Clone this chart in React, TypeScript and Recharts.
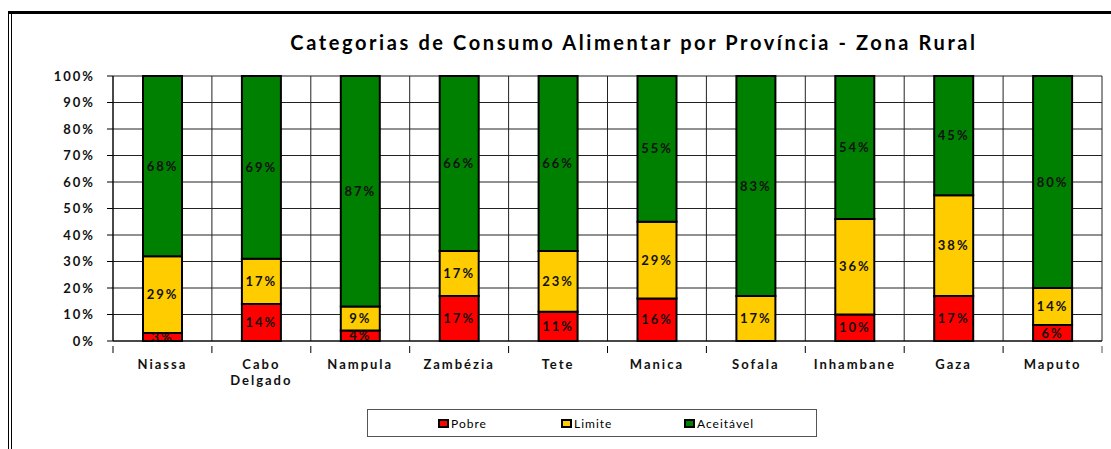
import { BarChart, Bar, XAxis, YAxis, CartesianGrid, LabelList } from 'recharts'

const provincias = ['Niassa', 'Cabo Delgado', 'Nampula', 'Zambézia', 'Tete', 'Manica', 'Sofala', 'Inhambane', 'Gaza', 'Maputo']
const pobre = [3, 14, 4, 17, 11, 16, 0, 10, 17, 6]
const limite = [29, 17, 9, 17, 23, 29, 17, 36, 38, 14]
const aceitavel = [68, 69, 87, 66, 66, 55, 83, 54, 45, 80]
const yTicks = [0, 10, 20, 30, 40, 50, 60, 70, 80, 90, 100]

const series = [
  { key: 'pobre', name: 'Pobre', color: '#ff0000' },
  { key: 'limite', name: 'Limite', color: '#ffcc00' },
  { key: 'aceitavel', name: 'Aceitável', color: '#008000' },
]

const rows = provincias.map((name, i) => ({
  name,
  pobre: pobre[i],
  limite: limite[i],
  aceitavel: aceitavel[i],
}))

const FONT = 'Lato, "DejaVu Sans", sans-serif'

// rótulo do eixo X em várias linhas (Cabo / Delgado) + traço nos limites da categoria
function CatTick(props: any) {
  const { x, y, payload, width, visibleTicksCount } = props
  const band = width / (visibleTicksCount || provincias.length)
  const words = String(payload?.value ?? '').split(' ')
  const last = payload?.index === provincias.length - 1
  return (
    <g>
      <line x1={x - band / 2} x2={x - band / 2} y1={y - 1} y2={y + 6} stroke="#000" />
      {last && <line x1={x + band / 2} x2={x + band / 2} y1={y - 1} y2={y + 6} stroke="#555" />}
      <text x={x} y={y + 6} textAnchor="middle" fontFamily={FONT} fontWeight={700} fontSize={13} letterSpacing={2} fill="#111">
        {words.map((w: string, i: number) => (
          <tspan key={i} x={x} dy={16}>{w}</tspan>
        ))}
      </text>
    </g>
  )
}

// linhas verticais da grelha nos limites entre províncias
const boundaries = ({ offset }: any) =>
  [...provincias.map((_, i) => offset.left + (i * offset.width) / provincias.length), offset.left + offset.width]

const pct = (v: any) => (v ? `${v}%` : '')

export default function App() {
  return (
    <div style={{ position: 'absolute', left: 0, top: 0, width: 1111, height: 449, background: '#fff', overflow: 'hidden' }}>
      {/* moldura */}
      <div style={{ position: 'absolute', left: 8, top: 11, width: 1103, height: 3, background: '#000' }} />
      <div style={{ position: 'absolute', left: 8, top: 11, width: 1, height: 438, background: '#000' }} />
      <div style={{ position: 'absolute', left: 11, top: 13, width: 1, height: 436, background: '#000' }} />

      <div
        style={{
          position: 'absolute', left: 0, width: 1268, top: 30, textAlign: 'center',
          fontFamily: FONT, fontWeight: 700, fontSize: 20, letterSpacing: 2.6, color: '#000',
        }}
      >
        Categorias de Consumo Alimentar por Província - Zona Rural
      </div>

      <div style={{ position: 'absolute', left: 0, top: 0 }}>
        <BarChart width={1111} height={449} data={rows} margin={{ top: 76, right: 9, left: 0, bottom: 60 }} barSize={39}>
          <CartesianGrid stroke="#222" strokeWidth={1} verticalCoordinatesGenerator={boundaries} />
          <XAxis dataKey="name" stroke="#000" tickLine={false} tick={<CatTick />} height={48} interval={0} tickMargin={0} />
          <YAxis
            domain={[0, 100]}
            ticks={yTicks}
            width={113}
            tickSize={6}
            tickMargin={12}
            stroke="#000"
            tick={{ fontFamily: FONT, fontWeight: 700, fontSize: 13, letterSpacing: 2, fill: '#111' }}
            tickFormatter={(v: any) => `${v}%`}
            interval={0}
          />
          {series.map((s) => (
            <Bar
              key={s.key}
              dataKey={s.key}
              name={s.name}
              stackId="a"
              fill={s.color}
              stroke="#000"
              strokeWidth={2}
              isAnimationActive={false}
            >
              <LabelList
                dataKey={s.key}
                position="center"
                formatter={pct}
                style={{ fontFamily: FONT, fontWeight: 700, fontSize: 13, letterSpacing: 2, fill: '#111' }}
              />
            </Bar>
          ))}
        </BarChart>
      </div>

      {/* legenda */}
      <div
        style={{
          position: 'absolute', left: 367, top: 409, width: 450, height: 28,
          border: '1px solid #555', boxSizing: 'border-box', fontFamily: FONT, fontSize: 12, letterSpacing: 1, color: '#000',
        }}
      >
        {series.map((s, i) => (
          <div key={s.key} style={{ position: 'absolute', left: 70 + i * 123, top: 6, display: 'flex', alignItems: 'center' }}>
            <span style={{ width: 7, height: 5, background: s.color, border: '2px solid #000', marginRight: 2 }} />
            <span>{s.name}</span>
          </div>
        ))}
      </div>
    </div>
  )
}
